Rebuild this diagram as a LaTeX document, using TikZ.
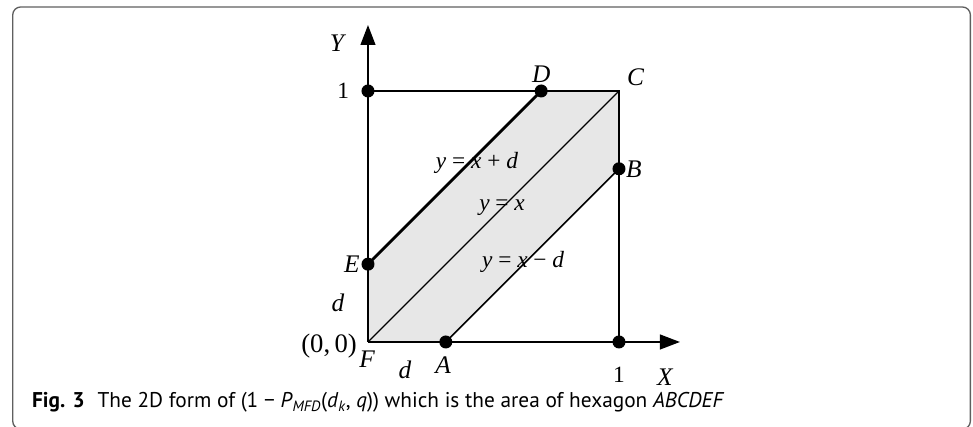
\documentclass[tikz,border=0pt]{standalone}
\usepackage{fontspec}
\setmainfont{Liberation Serif}
\newfontfamily\capfont{PT Sans}
\usetikzlibrary{arrows.meta,positioning}
\definecolor{hexgray}{RGB}{231,231,231}
\definecolor{framegray}{RGB}{95,95,95}

\begin{document}
\begin{tikzpicture}[x=188.25pt,y=188.25pt,
    lbl/.style={font=\fontsize{19}{22}\selectfont\itshape, inner sep=0pt},
    eq/.style={font=\fontsize{17.5}{20}\selectfont\itshape, inner sep=0pt},
    num/.style={font=\fontsize{17.5}{20}\selectfont, inner sep=0pt},
    dot/.style={circle, fill=black, inner sep=0pt, minimum size=9.75pt},
    axis/.style={line width=1.6pt, -{Triangle[length=15pt,width=11pt]}}]
    \def\dd{0.31}
    \useasboundingbox (-1.4661,-0.3386) rectangle (2.4104,1.3625);
    % frame of the figure
    \draw[framegray, line width=1pt, rounded corners=6pt] (-1.4155,-0.347) rectangle (2.400,1.3347);
    % corners of the hexagon
    \coordinate (F) at (0,0);
    \coordinate (A) at (\dd,0);
    \coordinate (B) at (1,1-\dd);
    \coordinate (C) at (1,1);
    \coordinate (D) at (1-\dd,1);
    \coordinate (E) at (0,\dd);
    \coordinate (Xone) at (1,0);
    \coordinate (Yone) at (0,1);
    \coordinate (Xend) at (1.243,0);
    \coordinate (Yend) at (0,1.263);
    \fill[hexgray] (A) -- (B) -- (C) -- (D) -- (E) -- (F) -- cycle;
    \draw[line width=1.2pt] (Yone) -- (C) -- (Xone);
    \draw[line width=1pt] (F) -- (C);
    \draw[line width=1.1pt] (A) -- (B);
    \draw[line width=2.2pt] (E) -- (D);
    \draw[axis] (F) -- (Xend);
    \draw[axis] (F) -- (Yend);
    % points
    \node[dot] (Ydot) at (Yone) {};
    \node[dot] (Xdot) at (Xone) {};
    \node[dot] (Adot) at (A) {};
    \node[dot] (Bdot) at (B) {};
    \node[dot] (Ddot) at (D) {};
    \node[dot] (Edot) at (E) {};
    % labels
    \node[lbl] (Ylbl) at (-0.124,1.191) {Y};
    \node[lbl] (Xlbl) at (1.183,-0.139) {X};
    \node[num, left=9pt of Ydot] (Ynum) {1};
    \node[num] (Xnum) at (1.0,-0.131) {1};
    \node[lbl, above=1pt of Ddot] (Dlbl) {D};
    \node[lbl] (Clbl) at (1.066,1.054) {C};
    \node[lbl, right=0pt of Bdot] (Blbl) {B};
    \node[lbl, left=1pt of Edot] (Elbl) {E};
    \node[lbl] (Albl) at (0.299,-0.094) {A};
    \node[lbl] (Flbl) at (-0.004,-0.068) {F};
    \node[num, font=\fontsize{20}{23}\selectfont] (orig) at (-0.155,-0.016) {(0,\,0)};
    \node[lbl] (dleft) at (-0.12,0.155) {d};
    \node[lbl] (dbot) at (0.147,-0.11) {d};
    \node[eq] (upper) at (0.434,0.713) {y\/ \upshape= \itshape x \upshape+ \itshape d};
    \node[eq] (mid) at (0.534,0.534) {y\/ \upshape= \itshape x};
    \node[eq] (lower) at (0.618,0.319) {y\/ \upshape= \itshape x \upshape− \itshape d};
    % caption
    \node[anchor=base west, inner sep=0pt, font=\capfont\fontsize{16}{18}\selectfont] (cap) at (-1.339,-0.262)
      {\textbf{Fig. 3}\hspace{0.6em}The 2D form of (1 − \textit{P}\textsubscript{\itshape MFD}(\textit{d}\textsubscript{\itshape k}, \textit{q})) which is the area of hexagon \textit{ABCDEF}};
\end{tikzpicture}
\end{document}
